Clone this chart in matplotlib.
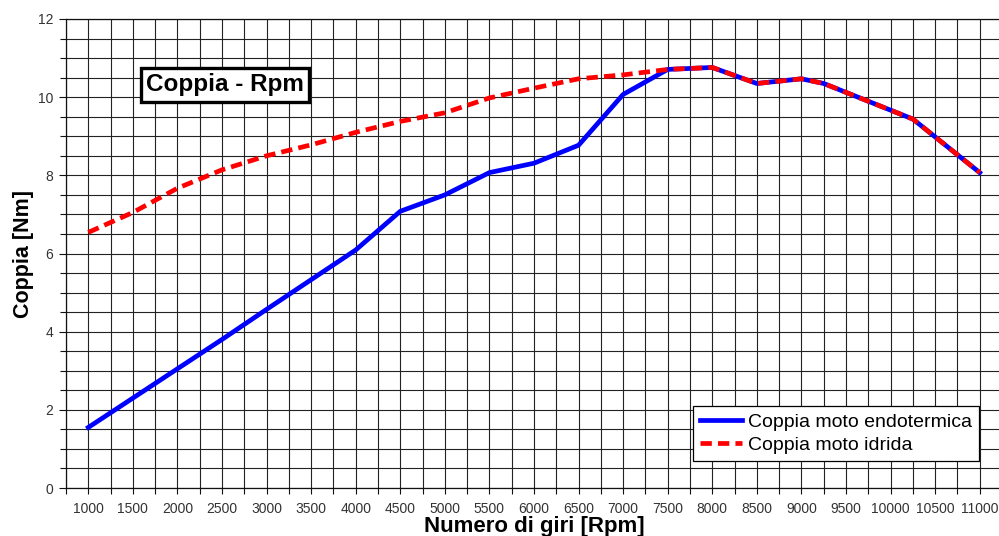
import matplotlib
matplotlib.use("Agg")
from matplotlib import pyplot as plt
from matplotlib.ticker import MultipleLocator

plt.rcParams["font.family"] = ["Liberation Sans", "DejaVu Sans"]

# numero di giri (rpm) e coppia (Nm)
rpm = [1000, 1500, 2000, 2500, 3000, 3500, 4000, 4500, 5000, 5500,
       6000, 6500, 7000, 7500, 8000, 8500, 9000, 9250, 10250, 11000]
coppia_endo = [1.55, 2.3, 3.05, 3.8, 4.57, 5.33, 6.09, 7.08, 7.5, 8.07,
               8.31, 8.77, 10.07, 10.71, 10.76, 10.35, 10.47, 10.35, 9.44, 8.07]
coppia_idrida = [6.54, 7.05, 7.67, 8.14, 8.5, 8.78, 9.1, 9.38, 9.6, 9.98,
                 10.23, 10.47, 10.57, 10.71, 10.76, 10.35, 10.47, 10.35, 9.44, 8.07]

label_endo = "Coppia moto endotermica"
label_idrida = "Coppia moto idrida"

W, H = 999, 536
fig = plt.figure(figsize=(W / 100, H / 100), dpi=100)
ax = fig.add_axes([66 / W, 48 / H, 936 / W, 469 / H])

ax.plot(rpm, coppia_endo, ls="-", lw=3.4, c="#0000ff", label=label_endo, zorder=3)
ax.plot(rpm, coppia_idrida, ls="--", lw=3.4, c="#ff0000", dashes=(2.4, 1.3),
        label=label_idrida, zorder=4)

ax.set_xlim(750, 11250)
ax.set_ylim(0, 12)
ax.xaxis.set_major_locator(MultipleLocator(500))
ax.xaxis.set_minor_locator(MultipleLocator(250))
ax.yaxis.set_major_locator(MultipleLocator(2))
ax.yaxis.set_minor_locator(MultipleLocator(0.5))

ax.grid(which="both", color="#222222", lw=0.8)
ax.set_axisbelow(True)
for s in ax.spines.values():
    s.set_color("#111111")
    s.set_linewidth(0.9)

ax.tick_params(which="both", direction="out", colors="#111111", labelcolor="#333333",
               labelsize=10, width=0.8)
ax.tick_params(which="major", length=5, pad=4)
ax.tick_params(which="minor", length=4)
ax.tick_params(axis="x", which="major", length=4, pad=6)

# etichette solo nel range dei dati
ax.set_xticks([x for x in range(1000, 11001, 500)])

ax.set_xlabel("Numero di giri [Rpm]", fontsize=16, fontweight="bold", labelpad=0)
ax.set_ylabel("Coppia [Nm]", fontsize=15.5, fontweight="bold", labelpad=3)

ax.text(0.17, 0.86, "Coppia - Rpm", transform=ax.transAxes, fontsize=17.5,
        fontweight="bold", ha="center", va="center", zorder=5,
        bbox=dict(boxstyle="square,pad=0.22", fc="white", ec="black", lw=2.4))

leg = ax.legend(loc="lower right", bbox_to_anchor=(913 / 936, 27 / 469),
                fontsize=14, frameon=True, fancybox=False, framealpha=1,
                edgecolor="black", handlelength=2.2, borderpad=0.35,
                labelspacing=0.3, handletextpad=0.3, borderaxespad=0)
leg.get_frame().set_linewidth(0.9)
leg.set_zorder(6)

plt.savefig("out.png", dpi=100)
plt.close("all")
